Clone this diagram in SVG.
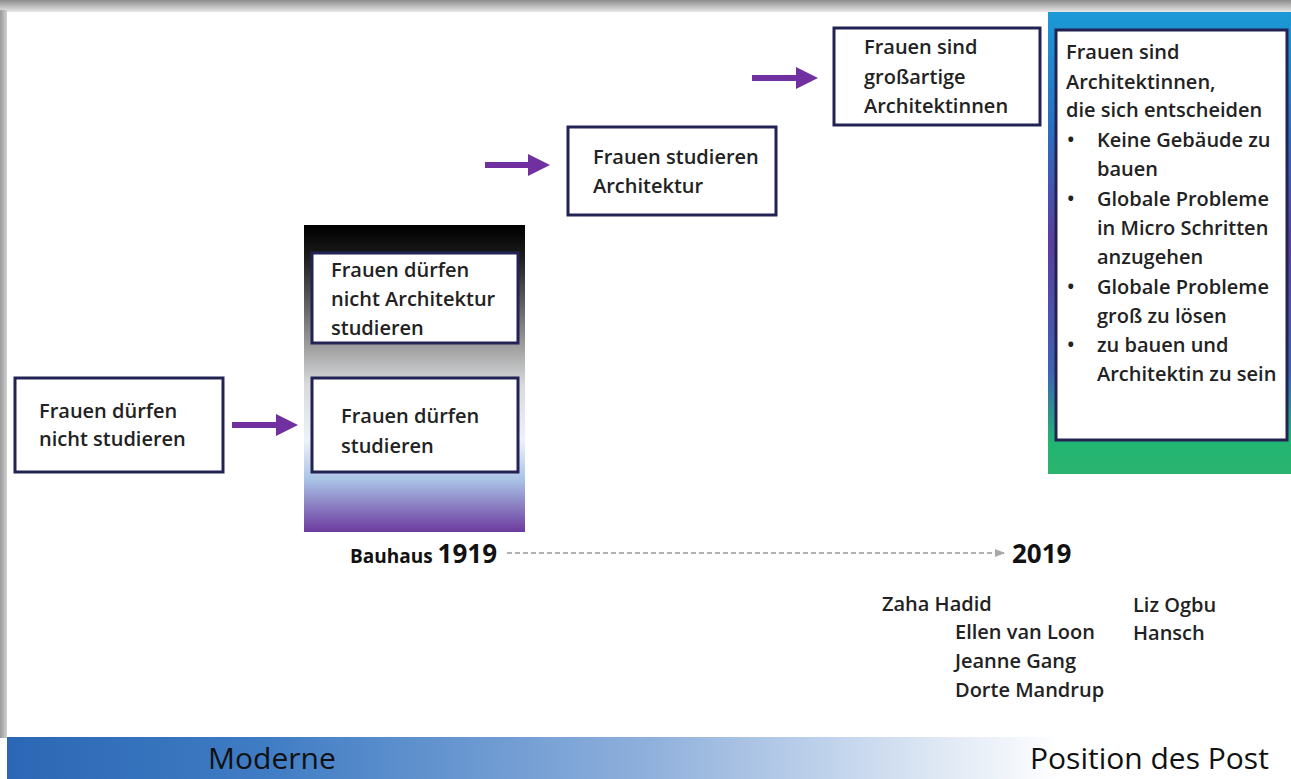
<svg xmlns="http://www.w3.org/2000/svg" width="1291" height="779" viewBox="0 0 1291 779">
  <defs>
    <linearGradient id="topShade" x1="0" y1="0" x2="0" y2="1">
      <stop offset="0" stop-color="#8c8c8c"/>
      <stop offset="1" stop-color="#e8e8e8"/>
    </linearGradient>
    <linearGradient id="leftShade" x1="0" y1="0" x2="1" y2="0">
      <stop offset="0" stop-color="#9a9a9a"/>
      <stop offset="1" stop-color="#d0d0d0"/>
    </linearGradient>
    <linearGradient id="colGrad" x1="0" y1="0" x2="0" y2="1">
      <stop offset="0" stop-color="#000000"/>
      <stop offset="0.1" stop-color="#1a1a1a"/>
      <stop offset="0.4" stop-color="#a0a0a0"/>
      <stop offset="0.52" stop-color="#d8dadc"/>
      <stop offset="0.7" stop-color="#eef2f8"/>
      <stop offset="0.83" stop-color="#a9c3e6"/>
      <stop offset="1" stop-color="#6c3a9e"/>
    </linearGradient>
    <linearGradient id="rightGrad" x1="0" y1="0" x2="0" y2="1">
      <stop offset="0" stop-color="#1b9ad6"/>
      <stop offset="0.25" stop-color="#2a6fc0"/>
      <stop offset="0.5" stop-color="#5b3d9e"/>
      <stop offset="0.78" stop-color="#3d63b4"/>
      <stop offset="0.93" stop-color="#22b573"/>
      <stop offset="1" stop-color="#2bb46e"/>
    </linearGradient>
    <linearGradient id="bandGrad" x1="0" y1="0" x2="1" y2="0">
      <stop offset="0" stop-color="#2b67b4"/>
      <stop offset="0.2" stop-color="#3f7cc4"/>
      <stop offset="0.5" stop-color="#8fb0dc"/>
      <stop offset="0.82" stop-color="#ffffff"/>
      <stop offset="1" stop-color="#ffffff"/>
    </linearGradient>
    <marker id="dashHead" viewBox="0 0 10 10" refX="9" refY="5" markerWidth="5" markerHeight="5" orient="auto">
      <path d="M0,1 L10,5 L0,9 z" fill="#a8a8a8"/>
    </marker>
    <style>
      .box { fill: #ffffff; stroke: #222255; stroke-width: 3; }
      .t { font-family: "Open Sans", "Noto Sans", "Liberation Sans", sans-serif; font-size: 20px; font-weight: 600; fill: #222; }
      .arrow { fill: #7030a0; }
      .yr { font-family: "Open Sans", "Liberation Sans", sans-serif; font-weight: bold; fill: #111; }
      .band { font-family: "Open Sans", "Liberation Sans", sans-serif; font-size: 30px; fill: #111; }
    </style>
  </defs>

  <rect x="0" y="0" width="1291" height="779" fill="#ffffff"/>
  <rect x="0" y="0" width="1291" height="12" fill="url(#topShade)"/>
  <rect x="0" y="10" width="7" height="728" fill="url(#leftShade)"/>

  <g id="column-bauhaus">
    <rect x="304" y="225" width="221" height="307" fill="url(#colGrad)"/>
  </g>
  <g id="column-post">
    <rect x="1048" y="12" width="243" height="462" fill="url(#rightGrad)"/>
  </g>

  <g id="node-nicht-studieren">
    <rect class="box" x="15" y="378" width="208" height="94"/>
    <text class="t" x="39" y="418">Frauen dürfen</text>
    <text class="t" x="39" y="446">nicht studieren</text>
  </g>

  <g id="node-nicht-architektur">
    <rect class="box" x="312" y="253" width="206" height="90"/>
    <text class="t" x="331" y="277">Frauen dürfen</text>
    <text class="t" x="331" y="306">nicht Architektur</text>
    <text class="t" x="331" y="335">studieren</text>
  </g>

  <g id="node-duerfen-studieren">
    <rect class="box" x="312" y="378" width="206" height="94"/>
    <text class="t" x="341" y="423">Frauen dürfen</text>
    <text class="t" x="341" y="453">studieren</text>
  </g>

  <g id="node-studieren-architektur">
    <rect class="box" x="568" y="127" width="208" height="88"/>
    <text class="t" x="593" y="164">Frauen studieren</text>
    <text class="t" x="593" y="193">Architektur</text>
  </g>

  <g id="node-grossartig">
    <rect class="box" x="834" y="28" width="206" height="97"/>
    <text class="t" x="864" y="54">Frauen sind</text>
    <text class="t" x="864" y="84">großartige</text>
    <text class="t" x="864" y="113">Architektinnen</text>
  </g>

  <g id="node-entscheiden">
    <rect class="box" x="1056" y="30" width="231" height="410"/>
    <text class="t" x="1066" y="59">Frauen sind</text>
    <text class="t" x="1066" y="89">Architektinnen,</text>
    <text class="t" x="1066" y="117">die sich entscheiden</text>
    <text class="t" x="1067" y="147">•</text>
    <text class="t" x="1097" y="147">Keine Gebäude zu</text>
    <text class="t" x="1097" y="176">bauen</text>
    <text class="t" x="1067" y="206">•</text>
    <text class="t" x="1097" y="206">Globale Probleme</text>
    <text class="t" x="1097" y="235">in Micro Schritten</text>
    <text class="t" x="1097" y="264">anzugehen</text>
    <text class="t" x="1067" y="294">•</text>
    <text class="t" x="1097" y="294">Globale Probleme</text>
    <text class="t" x="1097" y="323">groß zu lösen</text>
    <text class="t" x="1067" y="352">•</text>
    <text class="t" x="1097" y="352">zu bauen und</text>
    <text class="t" x="1097" y="381">Architektin zu sein</text>
  </g>

  <g id="connectors">
    <path class="arrow" d="M232,422 L276,422 L276,414 L298,425 L276,436 L276,428 L232,428 Z"/>
    <path class="arrow" d="M485,162 L528,162 L528,154 L550,165 L528,176 L528,168 L485,168 Z"/>
    <path class="arrow" d="M752,75 L796,75 L796,67 L818,78 L796,89 L796,81 L752,81 Z"/>
    <line x1="507" y1="553" x2="1004" y2="553" stroke="#b0b0b0" stroke-width="2" stroke-dasharray="5,3" marker-end="url(#dashHead)"/>
  </g>

  <g id="timeline-labels">
    <text class="yr" x="350" y="563" font-size="19">Bauhaus <tspan font-size="26">1919</tspan></text>
    <text class="yr" x="1012" y="563" font-size="26">2019</text>
  </g>

  <g id="names">
    <text class="t" x="882" y="611">Zaha Hadid</text>
    <text class="t" x="955" y="639">Ellen van Loon</text>
    <text class="t" x="955" y="668">Jeanne Gang</text>
    <text class="t" x="955" y="697">Dorte Mandrup</text>
    <text class="t" x="1133" y="612">Liz Ogbu</text>
    <text class="t" x="1133" y="640">Hansch</text>
  </g>

  <g id="bottom-band">
    <rect x="7" y="737" width="1284" height="42" fill="url(#bandGrad)"/>
    <text class="band" x="208" y="769">Moderne</text>
    <text class="band" x="1030" y="769">Position des Post</text>
  </g>
</svg>
